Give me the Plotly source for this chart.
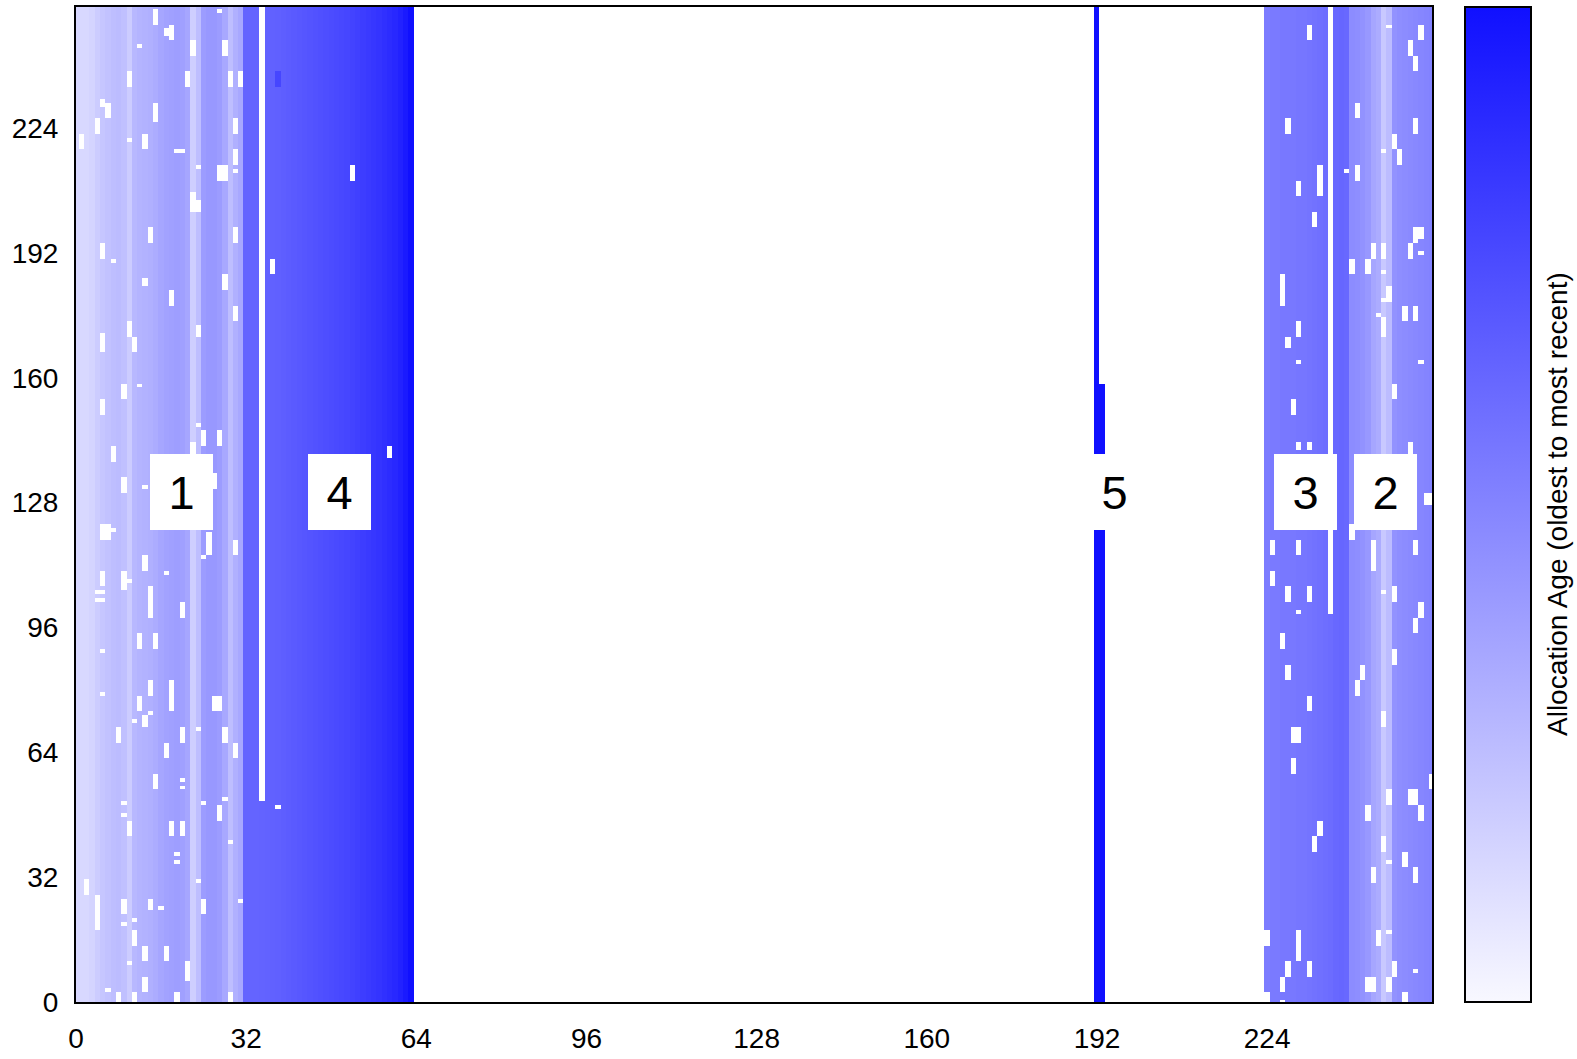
import numpy as np
import plotly.graph_objects as go

N_COLS = 256
N_ROWS = 256

# ---- column shades (R/G channel of a blue, 0-255) ----
region1_cols = list(range(0, 32))
region1_level = [216, 216, 216, 212, 204, 198, 194, 190, 188, 192, 204, 184, 180, 178, 176, 172,
                 166, 162, 160, 158, 160, 166, 206, 190, 156, 152, 152, 156, 168, 190, 176, 168]

region4_cols = list(range(32, 64))
region4_level = [100, 100, 100, 99, 98, 97, 96, 94, 92, 90, 88, 86, 84, 82, 80, 78,
                 76, 74, 72, 70, 67, 64, 61, 58, 55, 52, 48, 44, 40, 34, 26, 16]

region5_cols = [192, 193]
region5_level = [16, 16]
region5_top_row = [255, 158]   # highest filled row in each column

region3_cols = list(range(224, 240))
region3_level = [124, 122, 122, 120, 120, 120, 118, 118, 116, 114, 112, 110, 108, 104, 102, 104]

region2_cols = list(range(240, 256))
region2_level = [140, 142, 146, 152, 166, 172, 200, 188, 146, 142, 140, 138, 136, 134, 132, 130]

# darker cells (col, row_start, row_end_exclusive, level)
dark_cells = [(38, 235, 239, 70)]

# empty (unallocated) cells: (col, row_start, row_end_exclusive)
gaps = [
    # region 1
    (15, 251, 255), (18, 247, 251), (17, 248, 250), (12, 245, 246), (22, 243, 247), (28, 243, 247),
    (10, 235, 239), (21, 235, 239), (29, 235, 239), (31, 235, 239), (5, 230, 232), (6, 227, 231),
    (4, 223, 227), (15, 226, 231), (1, 219, 223), (10, 221, 222), (13, 219, 223), (19, 218, 219),
    (20, 218, 219), (30, 223, 227), (30, 215, 219), (23, 214, 215), (27, 211, 215), (28, 211, 215),
    (30, 213, 214), (22, 203, 208), (23, 203, 206), (14, 195, 199), (30, 195, 199), (5, 191, 195),
    (7, 190, 191), (13, 184, 186), (18, 179, 183), (28, 183, 187), (30, 175, 179), (10, 171, 175),
    (11, 167, 171), (23, 171, 174), (5, 167, 172), (27, 254, 255),
    (9, 155, 159), (12, 158, 159), (5, 151, 155), (23, 148, 149), (24, 143, 147), (27, 143, 147),
    (22, 141, 144), (7, 139, 143), (9, 131, 135), (13, 132, 133), (26, 132, 136), (5, 119, 123),
    (6, 119, 123), (7, 121, 122), (25, 115, 121), (24, 114, 115), (30, 115, 119), (13, 111, 115),
    (17, 110, 111), (5, 107, 111), (9, 106, 111), (10, 108, 109), (4, 105, 106), (5, 105, 106),
    (4, 103, 104), (5, 103, 104), (14, 99, 107), (20, 99, 103), (12, 91, 95), (15, 91, 95), (5, 90, 91),
    (14, 79, 83), (18, 75, 83), (5, 79, 80), (12, 75, 79), (26, 75, 79), (27, 75, 79), (14, 74, 75),
    (13, 71, 74), (11, 72, 73), (8, 67, 71), (20, 67, 71), (23, 70, 71), (28, 67, 71), (30, 63, 67),
    (17, 63, 67), (15, 55, 59), (20, 57, 58), (20, 55, 56), (24, 51, 52), (28, 52, 53), (27, 47, 51),
    (9, 51, 52), (9, 48, 49), (10, 43, 47), (18, 43, 47), (20, 43, 47), (29, 41, 42), (19, 38, 39),
    (19, 36, 37), (2, 28, 32), (4, 19, 28), (9, 23, 27), (14, 24, 27), (16, 24, 25), (23, 31, 32),
    (24, 23, 27), (31, 26, 27), (9, 20, 21), (11, 21, 22), (11, 15, 19), (13, 11, 15), (17, 11, 15),
    (10, 10, 11), (21, 6, 11), (13, 3, 7), (6, 3, 4), (8, 0, 3), (11, 0, 3), (19, 0, 3), (29, 0, 3),
    # region 4
    (35, 52, 256), (38, 50, 51), (52, 211, 215), (37, 187, 191), (59, 140, 143),
    # regions 3 and 2
    (236, 100, 256),
    (232, 247, 251), (247, 250, 251), (253, 247, 251), (251, 243, 247), (252, 239, 243), (241, 227, 231),
    (252, 223, 227), (228, 223, 227), (248, 219, 223), (249, 215, 219), (246, 218, 219), (234, 207, 215),
    (230, 207, 211), (239, 213, 214), (241, 211, 215), (233, 199, 203), (252, 195, 199), (253, 196, 199),
    (251, 191, 195), (253, 192, 193), (244, 191, 195), (246, 191, 195), (240, 187, 191), (243, 187, 191),
    (246, 187, 188), (247, 180, 184), (246, 180, 181), (250, 175, 179), (252, 175, 179), (245, 176, 177),
    (246, 171, 176), (227, 179, 187), (230, 171, 175), (228, 168, 171), (230, 164, 165), (253, 164, 165),
    (248, 155, 159), (229, 151, 155), (230, 142, 144), (232, 142, 144), (251, 141, 144), (254, 128, 131),
    (255, 128, 131),
    (240, 119, 123), (225, 115, 119), (230, 115, 119), (244, 111, 119), (252, 115, 119), (225, 107, 111),
    (228, 103, 107), (232, 103, 107), (230, 100, 101), (248, 103, 107), (246, 105, 106), (253, 99, 103),
    (252, 95, 99), (227, 91, 95), (248, 87, 91), (228, 83, 87), (242, 83, 87), (241, 79, 83),
    (232, 75, 79), (246, 71, 75), (229, 67, 71), (230, 67, 71), (229, 59, 63), (255, 55, 59),
    (247, 51, 55), (251, 51, 55), (252, 51, 55), (253, 47, 51), (243, 47, 51), (234, 43, 47),
    (233, 39, 43), (246, 39, 43), (247, 36, 37), (250, 35, 39), (244, 31, 35), (252, 31, 35),
    (224, 15, 19), (230, 11, 19), (245, 15, 19), (247, 18, 19), (228, 7, 11), (227, 3, 7),
    (232, 7, 11), (248, 7, 11), (252, 8, 9), (243, 3, 7), (244, 3, 7), (247, 3, 7), (250, 0, 3),
    (224, 0, 3), (227, 0, 1),
]

# region labels
label_text = ["1", "4", "5", "3", "2"]
label_x = [19.8, 49.5, 195.2, 231.3, 246.2]
label_y = [130.8, 130.8, 130.8, 130.8, 130.8]

x_ticks = [0, 32, 64, 96, 128, 160, 192, 224]
y_ticks = [0, 32, 64, 96, 128, 160, 192, 224]

colorbar_title = "Allocation Age (oldest to most recent)"

LIGHT, DARK = 248, 16


def level_to_value(level):
    return (LIGHT - level) / (LIGHT - DARK)


z = np.full((N_ROWS, N_COLS), np.nan)
for cols, levels in [(region1_cols, region1_level), (region4_cols, region4_level),
                     (region3_cols, region3_level), (region2_cols, region2_level)]:
    for c, lv in zip(cols, levels):
        z[:, c] = level_to_value(lv)
for c, lv, top in zip(region5_cols, region5_level, region5_top_row):
    z[:top + 1, c] = level_to_value(lv)
for c, r0, r1, lv in dark_cells:
    z[r0:r1, c] = level_to_value(lv)
for c, r0, r1 in gaps:
    z[r0:r1, c] = np.nan

FONT = "Liberation Sans, Arial, Helvetica, sans-serif"
L, R, T, B = 76, 145, 5, 57
W, H = 1577, 1059
plot_w = W - L - R
plot_h = H - T - B

fig = go.Figure(go.Heatmap(
    z=z, x=np.arange(N_COLS), y=np.arange(N_ROWS),
    zmin=0, zmax=1, zsmooth=False,
    colorscale=[[0, "#f8f8ff"], [1, "#1010ff"]],
    hoverongaps=False,
    colorbar=dict(
        x=(1465 - L) / plot_w, xanchor="left", xpad=0, ypad=0,
        y=0.5, yanchor="middle", len=1, lenmode="fraction",
        thickness=66, thicknessmode="pixels",
        outlinewidth=2, outlinecolor="black",
        showticklabels=False, ticks="",
    ),
))

for t, xx, yy in zip(label_text, label_x, label_y):
    fig.add_annotation(x=xx, y=yy, xref="x", yref="y", text=t, showarrow=False,
                       font=dict(size=47, family=FONT, color="black"),
                       bgcolor="white", width=63, height=76, borderpad=0, borderwidth=0)

# colorbar title (rotated, to the right of the bar)
fig.add_annotation(x=(1557 - L) / plot_w, y=(T + plot_h - 503) / plot_h, xref="paper", yref="paper",
                   text=colorbar_title, textangle=-90, showarrow=False,
                   xanchor="center", yanchor="middle",
                   font=dict(size=28, family=FONT, color="black"))

fig.update_layout(
    width=W, height=H,
    margin=dict(l=L, r=R, t=T, b=B, pad=0),
    paper_bgcolor="white", plot_bgcolor="white",
    font=dict(family=FONT, size=28, color="black"),
    xaxis=dict(range=[0, 255], tickvals=x_ticks, ticktext=[str(v) for v in x_ticks],
               showgrid=False, zeroline=False, showline=True, mirror=True,
               linecolor="black", linewidth=2, ticks="", ticklabelstandoff=10,
               tickfont=dict(size=28, family=FONT, color="black")),
    yaxis=dict(range=[0, 255], tickvals=y_ticks, ticktext=[str(v) for v in y_ticks],
               showgrid=False, zeroline=False, showline=True, mirror=True,
               linecolor="black", linewidth=2, ticks="", ticklabelstandoff=10,
               tickfont=dict(size=28, family=FONT, color="black")),
)

fig.write_html("out.html", config={"displayModeBar": False},
               post_script="document.body.style.margin='0px';")
